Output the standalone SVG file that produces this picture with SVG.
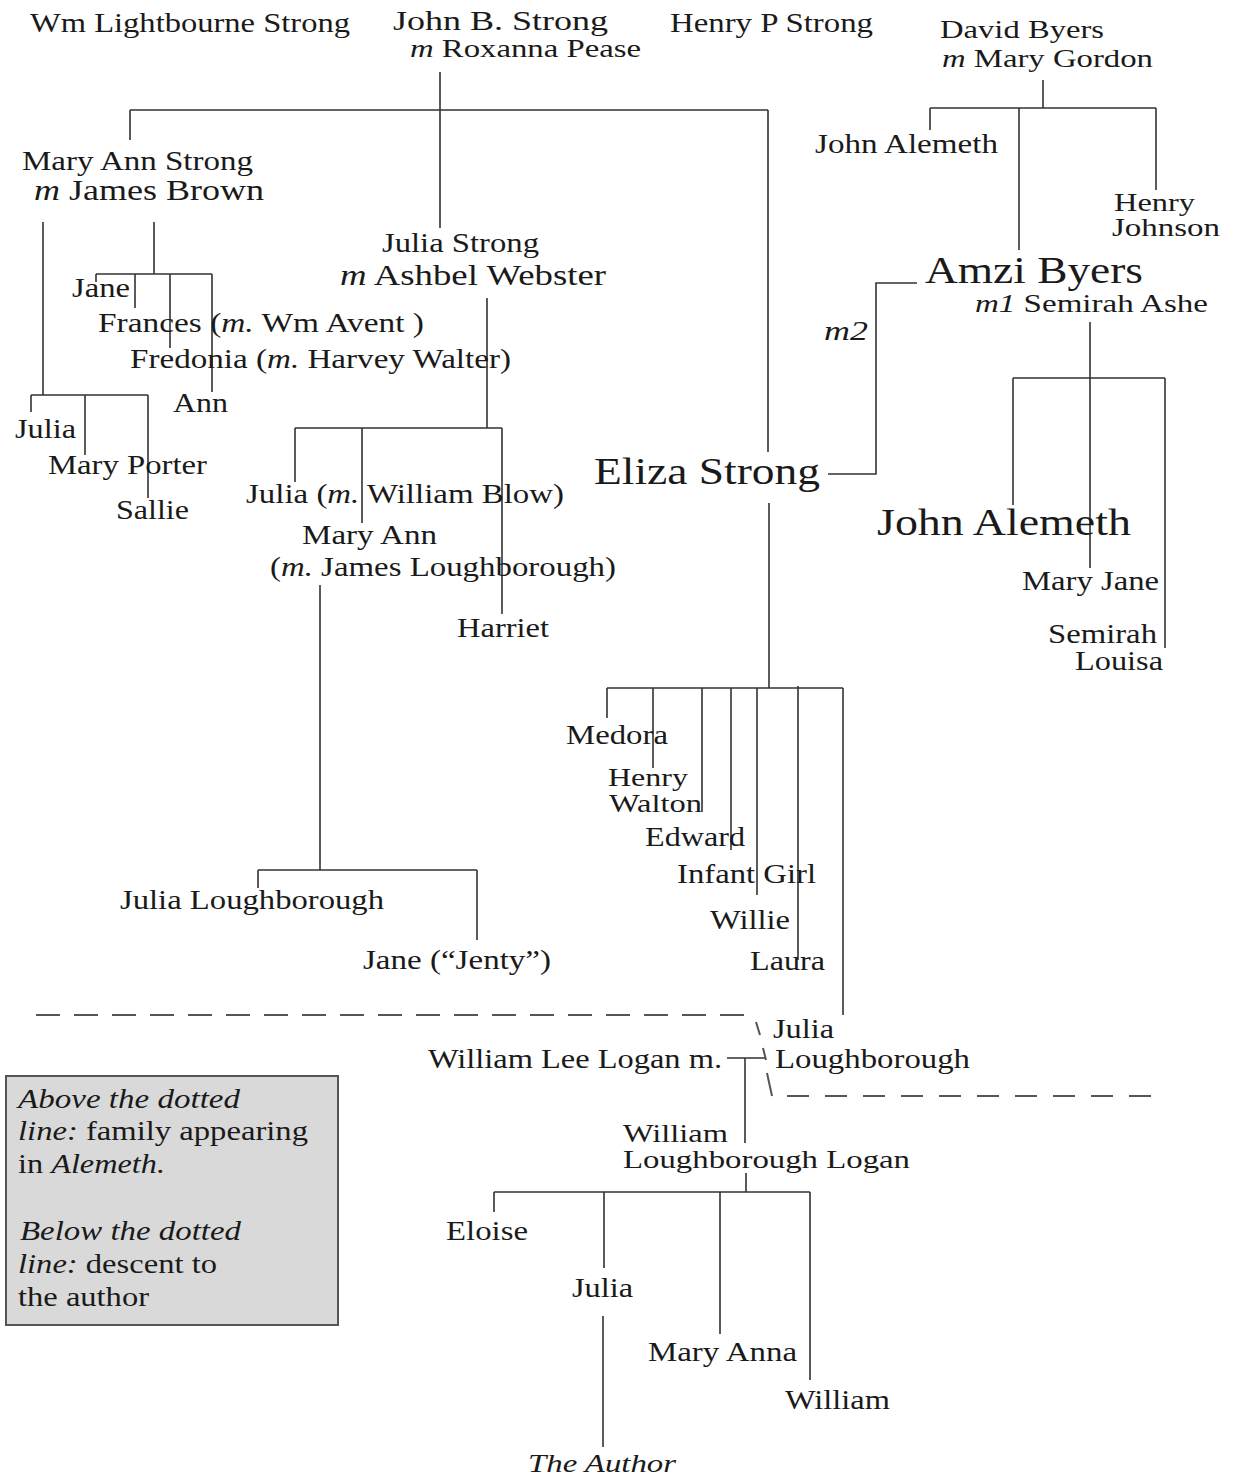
<svg xmlns="http://www.w3.org/2000/svg" width="1234" height="1478" viewBox="0 0 1234 1478">
<style>
text{font-family:"Liberation Serif","Times New Roman",serif;font-size:27px;fill:#1a1a1a}
.s25{font-size:25px}.s26{font-size:26px}.s28{font-size:28px}.s29{font-size:29px}.s30{font-size:30px}.big{font-size:38px}
.i{font-style:italic}
.l{stroke:#333;stroke-width:1.6;fill:none}
.d{stroke:#555;stroke-width:2;fill:none}
.box{fill:#d9d9d9;stroke:#555;stroke-width:2}
</style>
<rect width="1234" height="1478" fill="#fff"/>
<g id="connectors">
<path class="l" d="M440 72V228M130 110H768M130 110V140M768 110V452"/>
<path class="l" d="M43 222V395M31 395H148M31 395V412M85 395V455M148 395V498"/>
<path class="l" d="M154 222V274M96 274H212M96 274V282M135 274V308M170 274V348M212 274V392"/>
<path class="l" d="M487 298V428M295 428H502M295 428V482M362 428V523M502 428V614"/>
<path class="l" d="M320 585V870M258 870H477M258 870V888M477 870V940"/>
<path class="l" d="M828 474H876V283H917"/>
<path class="l" d="M769 503V688M607 688H843M607 688V718M653 688V768M702 688V812M731 688V850M757 688V895M798 686V960M843 688V1015"/>
<path class="l" d="M1043 80V108M930 108H1156M930 108V130M1019 108V250M1156 108V190"/>
<path class="l" d="M1090 322V568M1013 378H1165M1013 378V505M1165 378V648"/>
<path class="l" d="M727 1058H765M745 1058V1143"/>
<path class="l" d="M746 1173V1192M494 1192H810M494 1192V1212M604 1192V1268M720 1192V1334M810 1192V1380M603 1316V1447"/>
<path class="d" stroke-dasharray="24 14" d="M36 1015H757"/>
<path class="d" d="M756 1022L760 1035M763 1048L766 1060M767 1073L772 1096"/>
<path class="d" stroke-dasharray="22 16" d="M787 1096H1163"/>
</g>
<g id="wm-lightbourne"><text x="30" y="32" textLength="320" lengthAdjust="spacingAndGlyphs">Wm Lightbourne Strong</text></g>
<g id="john-b-strong"><text class="s28" x="393" y="30" textLength="215" lengthAdjust="spacingAndGlyphs">John B. Strong</text><text class="s25" x="410" y="57" textLength="231" lengthAdjust="spacingAndGlyphs"><tspan class="i">m</tspan> Roxanna Pease</text></g>
<g id="henry-p-strong"><text x="670" y="32" textLength="203" lengthAdjust="spacingAndGlyphs">Henry P Strong</text></g>
<g id="david-byers"><text class="s26" x="940" y="38" textLength="164" lengthAdjust="spacingAndGlyphs">David Byers</text><text class="s26" x="942" y="67" textLength="211" lengthAdjust="spacingAndGlyphs"><tspan class="i">m</tspan> Mary Gordon</text></g>
<g id="mary-ann-strong"><text x="22" y="170" textLength="231" lengthAdjust="spacingAndGlyphs">Mary Ann Strong</text><text class="s29" x="34" y="200" textLength="230" lengthAdjust="spacingAndGlyphs"><tspan class="i">m</tspan> James Brown</text></g>
<g id="john-alemeth-1"><text x="815" y="153" textLength="183" lengthAdjust="spacingAndGlyphs">John Alemeth</text></g>
<g id="henry-johnson"><text class="s25" x="1114" y="211" textLength="81" lengthAdjust="spacingAndGlyphs">Henry</text><text class="s25" x="1112" y="236" textLength="108" lengthAdjust="spacingAndGlyphs">Johnson</text></g>
<g id="julia-strong"><text x="382" y="252" textLength="157" lengthAdjust="spacingAndGlyphs">Julia Strong</text><text class="s30" x="340" y="285" textLength="266" lengthAdjust="spacingAndGlyphs"><tspan class="i">m</tspan> Ashbel Webster</text></g>
<g id="amzi-byers"><text class="big" x="925" y="283" textLength="218" lengthAdjust="spacingAndGlyphs">Amzi Byers</text><text class="s26" x="975" y="312" textLength="233" lengthAdjust="spacingAndGlyphs"><tspan class="i">m1</tspan> Semirah Ashe</text></g>
<g id="m2"><text class="i" x="824" y="340" textLength="44" lengthAdjust="spacingAndGlyphs">m2</text></g>
<g id="jane"><text x="72" y="297" textLength="58" lengthAdjust="spacingAndGlyphs">Jane</text></g>
<g id="frances"><text x="98" y="332" textLength="326" lengthAdjust="spacingAndGlyphs">Frances (<tspan class="i">m.</tspan> Wm Avent )</text></g>
<g id="fredonia"><text x="130" y="368" textLength="381" lengthAdjust="spacingAndGlyphs">Fredonia (<tspan class="i">m.</tspan> Harvey Walter)</text></g>
<g id="ann"><text x="173" y="412" textLength="55" lengthAdjust="spacingAndGlyphs">Ann</text></g>
<g id="julia-brown"><text x="15" y="438" textLength="61" lengthAdjust="spacingAndGlyphs">Julia</text></g>
<g id="mary-porter"><text x="48" y="474" textLength="159" lengthAdjust="spacingAndGlyphs">Mary Porter</text></g>
<g id="sallie"><text x="116" y="519" textLength="73" lengthAdjust="spacingAndGlyphs">Sallie</text></g>
<g id="julia-blow"><text x="246" y="503" textLength="318" lengthAdjust="spacingAndGlyphs">Julia (<tspan class="i">m.</tspan> William Blow)</text></g>
<g id="mary-ann-webster"><text x="302" y="544" textLength="135" lengthAdjust="spacingAndGlyphs">Mary Ann</text><text x="270" y="576" textLength="346" lengthAdjust="spacingAndGlyphs">(<tspan class="i">m.</tspan> James Loughborough)</text></g>
<g id="harriet"><text x="457" y="637" textLength="92" lengthAdjust="spacingAndGlyphs">Harriet</text></g>
<g id="eliza-strong"><text class="big" x="594" y="484" textLength="226" lengthAdjust="spacingAndGlyphs">Eliza Strong</text></g>
<g id="john-alemeth-2"><text class="big" x="877" y="535" textLength="254" lengthAdjust="spacingAndGlyphs">John Alemeth</text></g>
<g id="mary-jane"><text x="1022" y="590" textLength="137" lengthAdjust="spacingAndGlyphs">Mary Jane</text></g>
<g id="semirah-louisa"><text x="1048" y="643" textLength="109" lengthAdjust="spacingAndGlyphs">Semirah</text><text x="1075" y="670" textLength="88" lengthAdjust="spacingAndGlyphs">Louisa</text></g>
<g id="medora"><text x="566" y="744" textLength="102" lengthAdjust="spacingAndGlyphs">Medora</text></g>
<g id="henry-walton"><text class="s25" x="608" y="786" textLength="80" lengthAdjust="spacingAndGlyphs">Henry</text><text class="s25" x="609" y="812" textLength="93" lengthAdjust="spacingAndGlyphs">Walton</text></g>
<g id="edward"><text x="645" y="846" textLength="100" lengthAdjust="spacingAndGlyphs">Edward</text></g>
<g id="infant-girl"><text x="677" y="883" textLength="139" lengthAdjust="spacingAndGlyphs">Infant Girl</text></g>
<g id="willie"><text x="710" y="929" textLength="80" lengthAdjust="spacingAndGlyphs">Willie</text></g>
<g id="laura"><text x="750" y="970" textLength="75" lengthAdjust="spacingAndGlyphs">Laura</text></g>
<g id="julia-loughborough-1"><text x="120" y="909" textLength="264" lengthAdjust="spacingAndGlyphs">Julia Loughborough</text></g>
<g id="jane-jenty"><text x="363" y="969" textLength="188" lengthAdjust="spacingAndGlyphs">Jane (“Jenty”)</text></g>
<g id="julia-loughborough-2"><text x="773" y="1038" textLength="61" lengthAdjust="spacingAndGlyphs">Julia</text><text x="775" y="1068" textLength="195" lengthAdjust="spacingAndGlyphs">Loughborough</text></g>
<g id="william-lee-logan"><text x="428" y="1068" textLength="294" lengthAdjust="spacingAndGlyphs">William Lee Logan m.</text></g>
<g id="william-loughborough-logan"><text class="s25" x="623" y="1142" textLength="105" lengthAdjust="spacingAndGlyphs">William</text><text class="s26" x="623" y="1168" textLength="287" lengthAdjust="spacingAndGlyphs">Loughborough Logan</text></g>
<g id="eloise"><text x="446" y="1240" textLength="82" lengthAdjust="spacingAndGlyphs">Eloise</text></g>
<g id="julia-logan"><text x="572" y="1297" textLength="61" lengthAdjust="spacingAndGlyphs">Julia</text></g>
<g id="mary-anna"><text x="648" y="1361" textLength="149" lengthAdjust="spacingAndGlyphs">Mary Anna</text></g>
<g id="william-logan"><text x="785" y="1409" textLength="105" lengthAdjust="spacingAndGlyphs">William</text></g>
<g id="the-author"><text class="i s25" x="528" y="1472" textLength="148" lengthAdjust="spacingAndGlyphs">The Author</text></g>
<g id="legend">
<rect class="box" x="6" y="1076" width="332" height="249"/>
<text class="i" x="18" y="1108" textLength="222" lengthAdjust="spacingAndGlyphs">Above the dotted</text>
<text x="18" y="1140" textLength="290" lengthAdjust="spacingAndGlyphs"><tspan class="i">line:</tspan> family appearing</text>
<text x="18" y="1173" textLength="147" lengthAdjust="spacingAndGlyphs">in <tspan class="i">Alemeth.</tspan></text>
<text class="i" x="20" y="1240" textLength="221" lengthAdjust="spacingAndGlyphs">Below the dotted</text>
<text x="18" y="1273" textLength="199" lengthAdjust="spacingAndGlyphs"><tspan class="i">line:</tspan> descent to</text>
<text x="18" y="1306" textLength="131" lengthAdjust="spacingAndGlyphs">the author</text>
</g>
</svg>
